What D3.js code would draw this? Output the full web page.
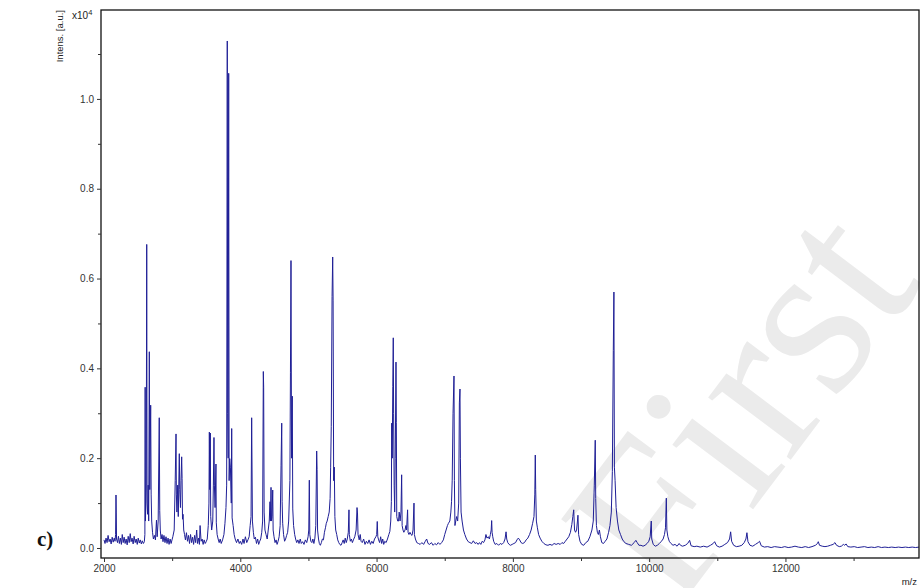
<!DOCTYPE html>
<html>
<head>
<meta charset="utf-8">
<script src="https://cdn.jsdelivr.net/npm/d3@7"></script>
<style>
  body { margin: 0; background: #fff; }
  svg { display: block; }
  .tick text { font-family: Arial, "Liberation Sans", sans-serif; font-size: 10px; fill: #333; }
</style>
</head>
<body>
<svg id="chart" width="921" height="588"></svg>
<script>
// m/z vs intensity (x10^4)
var spectrum = [
  [2000,0.018],[2015,0.010],[2030,0.022],[2045,0.012],[2060,0.028],[2075,0.014],[2090,0.020],[2105,0.009],[2120,0.024],[2135,0.013],
  [2150,0.022],[2162,0.015],[2170,0.030],[2176,0.118],[2180,0.078],[2184,0.020],[2198,0.012],[2212,0.026],[2225,0.010],[2240,0.022],
  [2255,0.008],[2268,0.030],[2282,0.012],[2296,0.024],[2310,0.010],[2325,0.020],[2340,0.007],[2355,0.026],[2370,0.012],[2385,0.032],
  [2398,0.014],[2412,0.022],[2428,0.009],[2442,0.026],[2458,0.012],[2472,0.020],[2488,0.008],[2502,0.022],[2518,0.011],[2532,0.018],
  [2548,0.009],[2562,0.016],[2578,0.010],[2592,0.014],
  [2600,0.030],[2604,0.358],[2608,0.060],[2620,0.140],[2627,0.676],[2632,0.100],[2640,0.075],[2648,0.140],[2656,0.060],[2665,0.437],
  [2672,0.130],[2685,0.318],[2692,0.120],[2700,0.060],[2712,0.035],[2725,0.020],[2740,0.028],[2755,0.018],[2770,0.062],[2780,0.025],
  [2795,0.060],[2811,0.290],[2818,0.083],[2826,0.040],[2838,0.020],[2852,0.030],[2866,0.014],[2880,0.028],[2895,0.012],[2910,0.025],
  [2925,0.010],[2940,0.022],[2955,0.008],[2970,0.020],[2985,0.010],[2998,0.018],
  [3010,0.025],[3030,0.040],[3045,0.150],[3057,0.254],[3062,0.120],[3070,0.080],[3082,0.140],[3090,0.070],[3105,0.210],[3112,0.130],
  [3122,0.090],[3130,0.150],[3140,0.203],[3146,0.155],[3152,0.064],[3160,0.075],[3170,0.040],[3182,0.030],[3195,0.018],[3210,0.034],
  [3225,0.015],[3240,0.028],[3255,0.010],[3270,0.030],[3285,0.012],[3300,0.024],[3315,0.008],[3330,0.028],[3345,0.012],[3360,0.040],
  [3372,0.010],[3388,0.022],[3400,0.008],[3410,0.050],[3425,0.015],[3440,0.020],[3455,0.008],[3470,0.018],[3485,0.010],[3500,0.014],
  [3515,0.020],[3530,0.050],
  [3540,0.100],[3546,0.258],[3552,0.130],[3560,0.256],[3566,0.070],[3580,0.040],[3596,0.060],[3605,0.140],[3614,0.246],[3620,0.140],
  [3630,0.090],[3643,0.187],[3648,0.056],[3660,0.030],[3675,0.020],[3690,0.012],[3705,0.020],[3720,0.010],[3740,0.018],[3760,0.030],
  [3775,0.055],[3790,0.090],[3800,0.140],[3809,1.129],[3815,0.300],[3822,0.200],[3830,1.057],[3836,0.150],[3845,0.199],[3855,0.180],
  [3868,0.100],[3874,0.266],[3880,0.067],[3895,0.050],[3910,0.030],[3925,0.020],[3945,0.012],[3965,0.020],[3985,0.010],[4000,0.015],
  [4020,0.008],[4040,0.020],[4055,0.010],[4075,0.025],[4095,0.012],[4112,0.018],[4130,0.025],[4145,0.050],[4158,0.070],[4167,0.290],
  [4172,0.187],[4178,0.060],[4192,0.035],[4205,0.020],[4222,0.024],[4238,0.010],[4255,0.020],[4270,0.008],[4285,0.015],[4300,0.020],
  [4315,0.035],[4328,0.060],[4338,0.393],[4343,0.358],[4350,0.080],[4362,0.040],[4378,0.030],[4395,0.020],[4410,0.040],[4425,0.060],
  [4436,0.103],[4442,0.060],[4451,0.135],[4458,0.060],[4466,0.070],[4476,0.129],[4482,0.040],[4495,0.025],[4510,0.012],[4525,0.018],
  [4540,0.008],[4555,0.015],[4570,0.025],[4585,0.050],[4598,0.183],[4608,0.278],[4614,0.103],[4622,0.055],[4635,0.030],[4650,0.015],
  [4665,0.020],[4680,0.028],[4695,0.035],[4710,0.060],[4728,0.150],[4736,0.390],[4744,0.640],[4752,0.200],[4763,0.338],[4770,0.087],
  [4782,0.050],[4798,0.030],[4812,0.020],[4828,0.012],[4845,0.018],[4862,0.010],[4880,0.020],[4895,0.010],[4915,0.014],[4935,0.008],
  [4955,0.018],[4975,0.012],[4995,0.025],[5005,0.040],[5013,0.151],[5020,0.030],[5035,0.015],[5050,0.012],[5065,0.020],[5080,0.010],
  [5095,0.022],[5108,0.050],[5121,0.216],[5127,0.175],[5134,0.040],[5148,0.020],[5160,0.010],[5175,0.006],[5190,0.012],[5205,0.020],
  [5220,0.018],[5235,0.035],[5250,0.045],[5262,0.055],[5275,0.060],[5290,0.070],[5305,0.080],[5318,0.110],[5326,0.180],[5335,0.270],
  [5347,0.560],[5356,0.648],[5362,0.552],[5370,0.150],[5380,0.180],[5388,0.070],[5400,0.040],[5415,0.030],[5430,0.018],[5445,0.012],
  [5460,0.008],[5478,0.006],[5495,0.012],[5510,0.018],[5525,0.010],[5540,0.022],[5555,0.012],[5570,0.020],[5585,0.035],[5595,0.085],
  [5600,0.030],[5615,0.015],[5630,0.020],[5645,0.012],[5660,0.018],[5680,0.025],[5700,0.040],[5713,0.090],[5720,0.078],[5728,0.030],
  [5745,0.018],[5760,0.030],[5772,0.015],[5790,0.012],[5810,0.020],[5830,0.008],[5850,0.015],[5870,0.010],[5890,0.018],[5910,0.008],
  [5930,0.015],[5950,0.010],[5970,0.020],[5990,0.025],[6002,0.030],[6010,0.059],[6018,0.025],[6030,0.018],[6045,0.012],[6060,0.025],
  [6075,0.010],[6090,0.020],[6105,0.008],[6120,0.015],[6140,0.012],[6160,0.020],[6180,0.030],[6195,0.037],[6208,0.060],[6217,0.103],
  [6222,0.278],[6230,0.200],[6238,0.360],[6245,0.468],[6250,0.300],[6258,0.140],[6266,0.080],[6274,0.200],[6285,0.414],[6290,0.280],
  [6296,0.070],[6310,0.060],[6322,0.060],[6332,0.080],[6345,0.060],[6358,0.080],[6368,0.163],[6375,0.050],[6388,0.040],[6400,0.035],
  [6418,0.040],[6430,0.050],[6440,0.040],[6455,0.085],[6462,0.035],[6475,0.030],[6490,0.035],[6505,0.030],[6520,0.028],[6535,0.040],
  [6549,0.100],[6555,0.030],[6570,0.020],[6590,0.012],[6615,0.010],[6640,0.008],[6665,0.012],[6690,0.008],[6715,0.015],[6735,0.020],
  [6755,0.010],[6780,0.008],[6805,0.012],[6830,0.006],[6855,0.010],[6880,0.007],[6905,0.012],[6930,0.008],[6955,0.012],[6980,0.018],
  [7000,0.030],[7020,0.040],[7040,0.050],[7055,0.055],[7075,0.060],[7090,0.080],[7100,0.103],[7110,0.151],[7122,0.300],[7136,0.383],
  [7142,0.150],[7150,0.050],[7162,0.060],[7175,0.070],[7190,0.060],[7205,0.100],[7215,0.323],[7224,0.354],[7230,0.200],[7240,0.080],
  [7255,0.060],[7275,0.040],[7295,0.030],[7320,0.020],[7345,0.014],[7370,0.012],[7395,0.010],[7420,0.016],[7445,0.010],[7470,0.012],
  [7490,0.008],[7510,0.012],[7530,0.008],[7550,0.015],[7570,0.012],[7590,0.018],[7605,0.030],[7620,0.022],[7640,0.025],[7655,0.020],
  [7670,0.030],[7682,0.040],[7689,0.061],[7695,0.035],[7705,0.025],[7718,0.015],[7740,0.008],[7765,0.010],[7790,0.006],[7815,0.010],
  [7840,0.008],[7865,0.012],[7885,0.020],[7900,0.036],[7910,0.020],[7925,0.012],[7945,0.008],[7965,0.006],[7990,0.008],
  [8015,0.010],[8040,0.012],[8060,0.018],[8080,0.022],[8100,0.018],[8120,0.012],[8145,0.010],[8170,0.012],[8195,0.018],[8220,0.022],
  [8245,0.030],[8268,0.040],[8290,0.055],[8310,0.070],[8322,0.120],[8329,0.207],[8335,0.130],[8345,0.060],[8360,0.045],[8378,0.030],
  [8400,0.022],[8425,0.015],[8455,0.010],[8485,0.007],[8515,0.006],[8545,0.008],[8575,0.006],[8605,0.010],[8635,0.008],[8665,0.010],
  [8695,0.008],[8720,0.012],[8745,0.010],[8770,0.015],[8795,0.020],[8820,0.025],[8845,0.035],[8865,0.052],[8880,0.070],[8893,0.085],
  [8905,0.040],[8920,0.035],[8935,0.040],[8948,0.060],[8955,0.073],[8965,0.030],[8985,0.015],[9010,0.008],[9040,0.006],[9070,0.012],
  [9100,0.015],[9130,0.025],[9160,0.040],[9180,0.060],[9195,0.140],[9209,0.240],[9216,0.110],[9226,0.050],[9240,0.035],[9255,0.030],
  [9270,0.040],[9285,0.025],[9305,0.012],[9330,0.010],[9355,0.015],[9380,0.020],[9405,0.035],[9425,0.050],[9445,0.080],[9460,0.170],
  [9474,0.440],[9483,0.570],[9490,0.180],[9500,0.150],[9515,0.090],[9535,0.060],[9555,0.040],[9580,0.030],[9605,0.020],[9630,0.014],
  [9660,0.010],[9700,0.008],[9740,0.006],[9780,0.012],[9805,0.017],[9825,0.012],[9850,0.006],[9880,0.006],[9910,0.004],[9940,0.006],
  [9970,0.010],[9995,0.015],[10015,0.025],[10031,0.060],[10038,0.020],[10060,0.008],[10090,0.004],[10120,0.006],[10150,0.010],[10180,0.015],
  [10205,0.020],[10225,0.030],[10240,0.045],[10252,0.111],[10260,0.040],[10275,0.025],[10295,0.015],[10320,0.010],[10350,0.006],[10380,0.008],
  [10410,0.004],[10440,0.010],[10460,0.006],[10490,0.004],[10530,0.006],[10565,0.010],[10594,0.017],[10615,0.005],[10660,0.003],[10700,0.004],
  [10750,0.002],[10800,0.004],[10850,0.002],[10900,0.006],[10940,0.010],[10961,0.014],[10990,0.005],[11030,0.002],[11070,0.004],[11110,0.008],
  [11150,0.012],[11180,0.020],[11196,0.036],[11210,0.015],[11240,0.006],[11280,0.003],[11320,0.004],[11360,0.006],[11395,0.012],[11420,0.020],
  [11435,0.034],[11450,0.014],[11480,0.006],[11520,0.004],[11560,0.008],[11600,0.012],[11620,0.015],[11645,0.005],[11690,0.002],[11740,0.003],
  [11790,0.001],[11840,0.003],[11890,0.002],[11940,0.001],[11990,0.003],[12040,0.001],[12090,0.002],[12140,0.004],[12190,0.002],[12240,0.001],
  [12290,0.003],[12340,0.001],[12390,0.003],[12440,0.006],[12470,0.010],[12482,0.014],[12500,0.006],[12540,0.004],[12580,0.003],[12620,0.004],
  [12660,0.006],[12700,0.008],[12727,0.012],[12750,0.006],[12790,0.003],[12820,0.004],[12850,0.008],[12870,0.006],[12890,0.009],[12915,0.003],
  [12960,0.002],[13010,0.003],[13060,0.001],[13110,0.002],[13160,0.003],[13210,0.001],[13260,0.002],[13310,0.001],[13360,0.003],[13410,0.001],
  [13460,0.002],[13510,0.001],[13560,0.002],[13610,0.001],[13660,0.002],[13710,0.001],[13760,0.002],[13810,0.001],[13860,0.002],[13910,0.001],
  [13960,0.002]
];

var xMajor = [2000, 4000, 6000, 8000, 10000, 12000];
var xMinor = [3000, 5000, 7000, 9000, 11000, 13000];
var yMajor = [0.0, 0.2, 0.4, 0.6, 0.8, 1.0];
var yMinor = [0.1, 0.3, 0.5, 0.7, 0.9, 1.1];

var svg = d3.select("#chart");

var plotLeft = 101, plotRight = 919, plotTop = 10, plotBottom = 558;

var x = d3.scaleLinear().domain([2000, 13960]).range([104, plotRight]);
var y = d3.scaleLinear().domain([-0.0223, 1.198]).range([plotBottom, plotTop]);

// watermark
svg.append("text")
    .attr("transform", "translate(675,613) rotate(-53)")
    .attr("font-family", "'Liberation Serif', 'DejaVu Serif', serif")
    .attr("font-size", 225)
    .attr("fill", "#ebebeb")
    .text("First");

// spectrum
var line = d3.line()
    .x(function(d) { return x(d[0]); })
    .y(function(d) { return y(d[1]); });

svg.append("path")
    .datum(spectrum)
    .attr("d", line)
    .attr("fill", "none")
    .attr("stroke", "#1f1f96")
    .attr("stroke-width", 1)
    .attr("stroke-linejoin", "round");

// frame
svg.append("rect")
    .attr("x", plotLeft).attr("y", plotTop)
    .attr("width", plotRight - plotLeft).attr("height", plotBottom - plotTop)
    .attr("fill", "none")
    .attr("stroke", "#111")
    .attr("stroke-width", 1.3);

// axes
var xAxis = d3.axisBottom(x).tickValues(xMajor).tickSize(4).tickSizeOuter(0).tickFormat(d3.format("d"));
var xAxisMinor = d3.axisBottom(x).tickValues(xMinor).tickSize(3).tickSizeOuter(0).tickFormat("");
var yAxis = d3.axisLeft(y).tickValues(yMajor).tickSize(4).tickSizeOuter(0).tickFormat(d3.format(".1f"));
var yAxisMinor = d3.axisLeft(y).tickValues(yMinor).tickSize(3).tickSizeOuter(0).tickFormat("");

svg.append("g").attr("transform", "translate(0," + plotBottom + ")").call(xAxis);
svg.append("g").attr("transform", "translate(0," + plotBottom + ")").call(xAxisMinor);
svg.append("g").attr("transform", "translate(" + plotLeft + ",0)").call(yAxis);
svg.append("g").attr("transform", "translate(" + plotLeft + ",0)").call(yAxisMinor);
svg.selectAll(".domain").remove();
svg.selectAll(".tick line").attr("stroke", "#333");

// labels
svg.append("text")
    .attr("transform", "translate(63,10) rotate(-90)")
    .attr("text-anchor", "end")
    .attr("font-family", "Arial, 'Liberation Sans', sans-serif")
    .attr("font-size", 9.5)
    .attr("fill", "#222")
    .text("Intens. [a.u.]");

var expo = svg.append("text")
    .attr("x", 72).attr("y", 19)
    .attr("font-family", "Arial, 'Liberation Sans', sans-serif")
    .attr("font-size", 10)
    .attr("fill", "#222")
    .text("x10");
expo.append("tspan").attr("dy", -4).attr("font-size", 7.5).text("4");

svg.append("text")
    .attr("x", 917).attr("y", 585)
    .attr("text-anchor", "end")
    .attr("font-family", "Arial, 'Liberation Sans', sans-serif")
    .attr("font-size", 9.5)
    .attr("fill", "#222")
    .text("m/z");

svg.append("text")
    .attr("x", 37).attr("y", 546)
    .attr("font-family", "'Liberation Serif', 'DejaVu Serif', serif")
    .attr("font-size", 21)
    .attr("font-weight", "bold")
    .attr("fill", "#111")
    .text("c)");
</script>
</body>
</html>
